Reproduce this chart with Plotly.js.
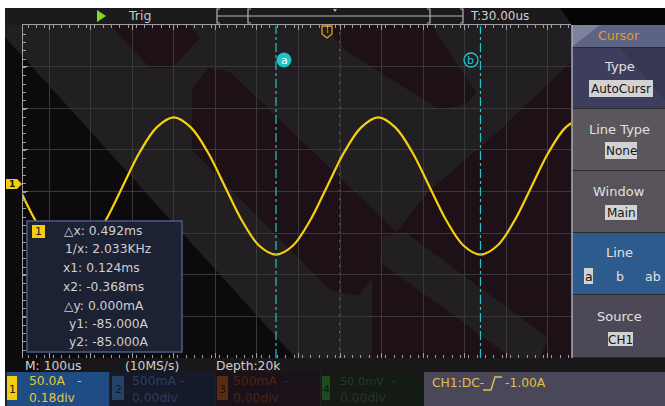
<!DOCTYPE html>
<html><head><meta charset="utf-8">
<script src="https://cdn.plot.ly/plotly-3.0.1.min.js"></script>
<style>html,body{margin:0;padding:0;background:#fff;}#chart{width:665px;height:406px;}</style>
</head><body><div id="chart"></div>
<script>
// ---- data (time in ms, current in A) ----
const timeMs = [-0.739,-0.698,-0.657,-0.616,-0.575,-0.534,-0.493,-0.452,-0.411,-0.370,-0.329,-0.288,-0.247,-0.206,-0.165,-0.124,-0.083,-0.042,-0.001,0.040,0.081,0.122,0.163,0.204,0.245,0.286,0.327,0.368,0.409,0.450,0.491,0.532,0.573,0.614];
const currentA = [-8,-48,-75,-85,-74,-44,-3,38,68,80,68,38,-3,-44,-74,-85,-74,-44,-3,38,68,80,68,38,-3,-44,-74,-85,-74,-44,-3,38,68,80];
const cursorTimes = [-0.124, 0.368];
const cursorNames = ['a','b'];
const readoutLines = ['△x: 0.492ms','1/x: 2.033KHz','x1: 0.124ms','x2: -0.368ms','△y: 0.000mA','y1: -85.000A','y2: -85.000A'];
const menuTitles = ['Type','Line Type','Window','Line','Source'];
const menuValues = ['AutoCursr','None','Main','','CH1'];
const chScale = ['50.0A','500mA','500mA','50.0mV'];
const chOffset = ['0.18div','0.00div','0.00div','0.00div'];
const timebase = 'M: 100us', sampleRate = '(10MS/s)', depth = 'Depth:20k';
const trigOffset = 'T:30.00us';
const trigInfo = ['CH1:DC-','-1.00A'];
const screenCenterMs = 0.03, msPerDiv = 0.1, ampPerDiv = 50, ch1OffsetDiv = 0.18;

const W=665,H=406;
const PX=x=>x/W, PY=y=>1-y/H;
const FONT='DejaVu Sans';
const shapes=[], ann=[];
function rect(x0,y0,x1,y1,fill,layer,line){shapes.push({type:'rect',xref:'paper',yref:'paper',x0:PX(x0),x1:PX(x1),y0:PY(y1),y1:PY(y0),fillcolor:fill,line:line||{width:0},layer:layer||'above'});}
function poly(pts,fill,layer,line){let d='M'+pts.map(p=>PX(p[0])+','+PY(p[1])).join(' L')+' Z';shapes.push({type:'path',xref:'paper',yref:'paper',path:d,fillcolor:fill,line:line||{width:0},layer:layer||'above'});}
function pline(pts,color,w,layer){let d='M'+pts.map(p=>PX(p[0])+','+PY(p[1])).join(' L');shapes.push({type:'path',xref:'paper',yref:'paper',path:d,line:{color:color,width:w||1},layer:layer||'above'});}
function txt(x,y,s,color,size,anchor){ann.push({xref:'paper',yref:'paper',x:PX(x),y:PY(y),text:s,showarrow:false,xanchor:anchor||'left',yanchor:'middle',font:{family:FONT,size:size||12,color:color}});}

// ---- background / watermark (subtle) ----
const BG='#221f22', MAR='#1e1017';
rect(0,0,665,406,BG,'below');
poly([[95,8],[175,8],[200,38],[172,68],[150,68]],MAR,'below');
poly([[192,90],[208,68],[230,72],[405,240],[358,296],[330,290],[192,150]],MAR,'below');
poly([[310,8],[420,8],[476,92],[466,104],[440,110],[345,50]],MAR,'below');
poly([[571,62],[571,358],[372,358],[372,262],[430,190],[500,130]],MAR,'below');
poly([[383,236],[405,232],[548,338],[540,358],[512,358],[380,262]],BG,'below');
poly([[5,37],[5,372],[308,372]],'#0c0a0c','below');
rect(0,0,665,8,'#ffffff','below');
rect(0,0,5,406,'#ffffff','below');
rect(5,8,665,25,'#1c1a1c','below');
poly([[560,8],[665,8],[665,25],[572,25]],'#050505','below');

// ---- top bar ----
poly([[97,10],[97,22],[106,16]],'#7fdc22');
txt(126,16,'Trig','#c8c8c8',12.5);
const bc='#b5b5b5';
pline([[220,9],[217,9],[217,23],[220,23]],bc,1.2);
pline([[251,9],[248,9],[248,23],[251,23]],bc,1.2);
pline([[427,9],[430,9],[430,23],[427,23]],bc,1.2);
pline([[460,9],[463,9],[463,23],[460,23]],bc,1.2);
pline([[217,16],[463,16]],bc,1);
poly([[333,9],[337,9],[335,12]],bc);
txt(468,16,trigOffset,'#d0d0d0',12);

// ---- center dotted lines & cursors (axis coordinates) ----
shapes.push({type:'line',xref:'x',yref:'paper',x0:screenCenterMs,x1:screenCenterMs,y0:PY(358),y1:PY(25),line:{color:'#a8a8a8',width:1,dash:'2px,6.3px'},layer:'between'});
shapes.push({type:'line',xref:'paper',yref:'y',x0:PX(23),x1:PX(571),y0:-ch1OffsetDiv*ampPerDiv,y1:-ch1OffsetDiv*ampPerDiv,line:{color:'#a8a8a8',width:1,dash:'2px,6.3px'},layer:'between'});
cursorTimes.forEach((t,i)=>{
  shapes.push({type:'line',xref:'x',yref:'paper',x0:t,x1:t,y0:PY(358),y1:PY(26),line:{color:'#1cc6cc',width:1.2,dash:'dashdot'},layer:'above'});
});
shapes.push({type:'circle',xref:'paper',yref:'paper',x0:PX(277),x1:PX(291),y0:PY(67),y1:PY(53),fillcolor:'#1cc6cc',line:{color:'#1cc6cc',width:1}});
txt(284,60,cursorNames[0],'#ffffff',11,'center');
shapes.push({type:'circle',xref:'paper',yref:'paper',x0:PX(464),x1:PX(478),y0:PY(67),y1:PY(53),fillcolor:'rgba(0,0,0,0)',line:{color:'#1cc6cc',width:1.3}});
txt(471,60,cursorNames[1],'#1cc6cc',11,'center');
// trigger T marker
poly([[322,26],[332,26],[332,34],[327,38],[322,34]],'rgba(0,0,0,0)','above',{color:'#e0a020',width:1.3});
txt(327,31,'T','#e0a020',8,'center');
// channel 1 ground marker
poly([[6,179],[17,179],[22,184],[17,189],[6,189]],'#f2cf0c');
txt(12,184,'<b>1</b>','#1a1a1a',9,'center');

// ---- info box ----
rect(27,221,182,352,'#1c2133','above',{color:'#4b5c84',width:1.5});
rect(32,225,45,238,'#f2cf0c');
txt(38.5,231.5,'1','#1a1a1a',11,'center');
const infoX=[62,63,61,61,62,67,67], infoY=[231,249,268,287,306,324,342];
readoutLines.forEach((s,i)=>txt(infoX[i],infoY[i],s,'#d0d0d0',12.3));

// ---- right menu ----
rect(571,25,665,358,'#2b2a2e');
rect(572,25,665,47,'#5d6383');
poly([[572,25],[600,25],[572,47]],'#7c819c');
rect(572,48,665,108,'#3d3e5e');
poly([[620,48],[665,48],[665,100]],'#35364f');
rect(572,109,665,170,'#5b565c');
rect(572,171,665,232,'#58525a');
rect(572,233,665,294,'#2e5b8e');
rect(572,295,665,357,'#4c4858');
pline([[572,25],[572,358]],'#b8b8c0',1.3);
txt(619,35,'Cursor','#e39a2a',12.5,'center');
const titleY=[67,129,191,253,316], boxY=[[80,97],[142,159],[205,220],null,[332,346]], boxX=[[589,653],[605,637],[605,637],null,[608,633]];
menuTitles.forEach((s,i)=>{
  txt(619,titleY[i],s,'#e0e0e0',13,'center');
  if(menuValues[i]){
    const b=boxX[i],y=boxY[i];
    rect(b[0],y[0],b[1],y[1],'#d2d2d2');
    txt((b[0]+b[1])/2,(y[0]+y[1])/2+0.5,menuValues[i],'#141414',12,'center');
  }
});
rect(584,268,593,284,'#d2d2d2');
txt(588.5,276,'a','#141414',12.5,'center');
txt(620,276,'b','#e0e0e0',12.5,'center');
txt(653,276,'ab','#e0e0e0',12.5,'center');

// ---- bottom status ----
rect(5,358,665,372,'#19171a');
rect(5,358,40,372,'#0e0c0e');
txt(23,365.5,timebase,'#d0d0d0',12.3);
txt(123,365.5,sampleRate,'#d0d0d0',12.3);
txt(214,365.5,depth,'#d0d0d0',12.3);
const blk=[[7,109,'#1f4c82','#f2cf0c','#e2c83c','#1a1a1a'],[111,215,'#151a2a','#244466','#2c3f5e','#0f1a28'],[216,320,'#1a1218','#5a2a12','#4a2414','#1e0e06'],[321,424,'#141a14','#1f4a1f','#283828','#0c1a0c']];
const txtX=[27,130,231,338], dashX=[75,178,281,389], tabX=[[7,17],[112,124],[217,228],[322,330]], chSize=[12.3,12.3,12.3,11.3];
blk.forEach((b,i)=>{
  rect(b[0],372,b[1],406,b[2]);
  rect(tabX[i][0],376,tabX[i][1],400,b[3]);
  txt((tabX[i][0]+tabX[i][1])/2,389,String(i+1),b[5],11,'center');
  txt(txtX[i],381,chScale[i],b[4],chSize[i]);
  txt(dashX[i],381,'-',b[4],12.3);
  txt(txtX[i],398,chOffset[i],b[4],12.3);
});
rect(424,372,665,406,'#4a4759');
txt(430,383,trigInfo[0],'#e0c24a',12.3);
pline([[483,390],[491,390],[495,377],[502,377]],'#e0c24a',1.4);
txt(503,383,trigInfo[1],'#e0c24a',12.3);

// ---- axes ----
const xRange=[screenCenterMs-(340-23)/415.6, screenCenterMs+(571-340)/415.6];
const yRange=[-ch1OffsetDiv*ampPerDiv-4*ampPerDiv, -ch1OffsetDiv*ampPerDiv+4*ampPerDiv];
const ax={range:xRange,domain:[23/W,571/W],tick0:screenCenterMs,dtick:msPerDiv,ticks:'inside',ticklen:5,tickcolor:'#a0a0a0',tickwidth:1,
  showticklabels:false,showline:true,linecolor:'#a0a0a0',linewidth:1.3,zeroline:false,fixedrange:true,
  minor:{dtick:msPerDiv/5,ticks:'inside',ticklen:3,tickcolor:'#a0a0a0',showgrid:false}};
const layout={width:W,height:H,margin:{l:0,r:0,t:0,b:0},paper_bgcolor:BG,plot_bgcolor:'rgba(0,0,0,0)',showlegend:false,
  xaxis:Object.assign({},ax,{showgrid:true,gridcolor:'#3a373a',gridwidth:1,anchor:'y'}),
  xaxis2:Object.assign({},ax,{showgrid:false,overlaying:'x',side:'top',anchor:'y',matches:'x'}),
  yaxis:{range:yRange,domain:[(H-357.8)/H,(H-25)/H],tick0:-ch1OffsetDiv*ampPerDiv,dtick:ampPerDiv,showgrid:true,gridcolor:'#3a373a',
    ticks:'inside',ticklen:5,tickcolor:'#a0a0a0',showticklabels:false,showline:true,linecolor:'#a0a0a0',linewidth:1.3,zeroline:false,fixedrange:true,
    minor:{dtick:ampPerDiv/5,ticks:'inside',ticklen:3,tickcolor:'#a0a0a0',showgrid:false}},
  shapes:shapes,annotations:ann};
const traces=[
  {x:timeMs,y:currentA,type:'scatter',mode:'lines',line:{color:'#f4d10a',width:2.2,shape:'spline',smoothing:1},hoverinfo:'skip',xaxis:'x',yaxis:'y'},
  {x:[xRange[0]],y:[0],type:'scatter',mode:'markers',marker:{opacity:0},xaxis:'x2',yaxis:'y',hoverinfo:'skip'}
];
Plotly.newPlot('chart',traces,layout,{staticPlot:true,displayModeBar:false});
</script></body></html>
